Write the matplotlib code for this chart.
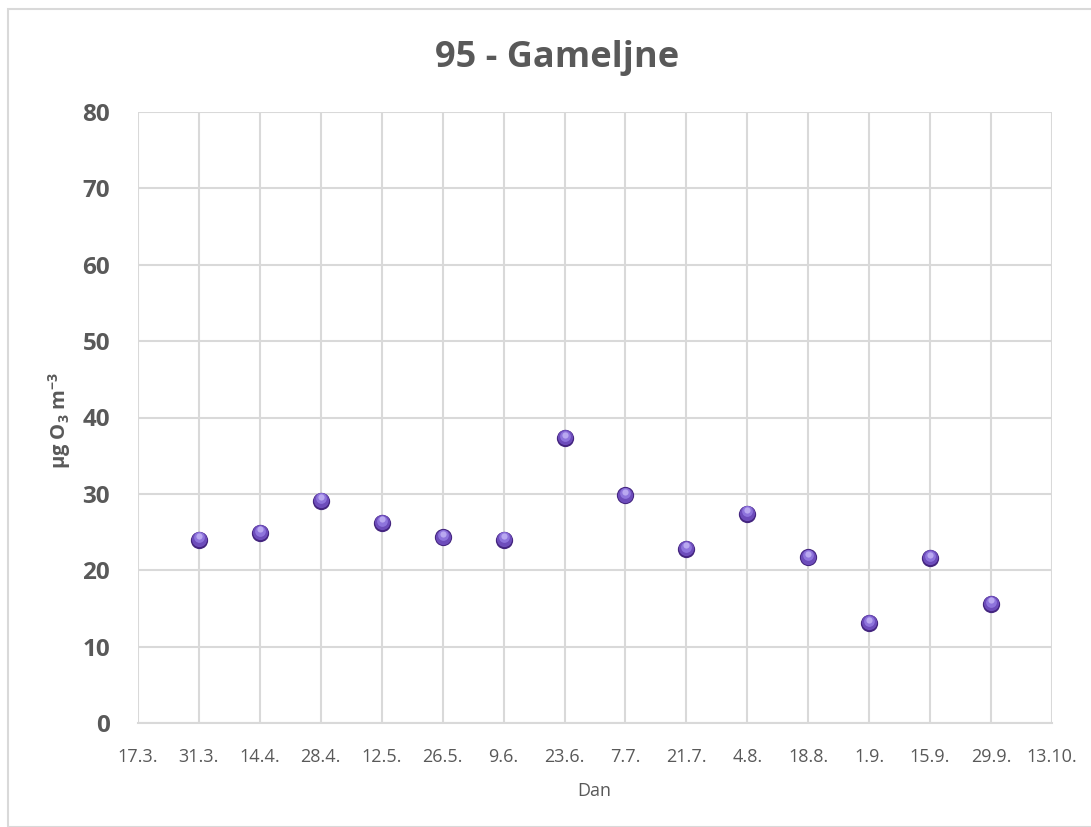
import matplotlib
matplotlib.use("Agg")
import matplotlib.pyplot as plt
import matplotlib.dates as mdates
from matplotlib.patches import Rectangle
import datetime as dt

# ---- data ----
dates = ["31.3.", "14.4.", "28.4.", "12.5.", "26.5.", "9.6.", "23.6.", "7.7.",
         "21.7.", "4.8.", "18.8.", "1.9.", "15.9.", "29.9."]
values = [24.0, 24.9, 29.1, 26.2, 24.3, 24.0, 37.3, 29.8,
          22.8, 27.4, 21.7, 13.1, 21.6, 15.6]
x_ticks = ["17.3.", "31.3.", "14.4.", "28.4.", "12.5.", "26.5.", "9.6.", "23.6.",
           "7.7.", "21.7.", "4.8.", "18.8.", "1.9.", "15.9.", "29.9.", "13.10."]
y_ticks = [0, 10, 20, 30, 40, 50, 60, 70, 80]
title = "95 - Gameljne"
year = 2021


def to_date(s):
    d, m = [int(p) for p in s.strip(".").split(".")]
    return dt.date(year, m, d)


xd = [mdates.date2num(to_date(s)) for s in dates]
xt = [mdates.date2num(to_date(s)) for s in x_ticks]

plt.rcParams['font.family'] = ['Open Sans', 'DejaVu Sans']
grey = "#595959"

fig = plt.figure(figsize=(10.91, 8.27), dpi=100)
fig.patches.append(Rectangle((8 / 1091, 0.0), 1.2, 1 - 9 / 827, transform=fig.transFigure,
                             fill=False, edgecolor="#d9d9d9", linewidth=1.5))
ax = fig.add_axes([138 / 1091, 1 - 723 / 827, (1052 - 138) / 1091, (723 - 112) / 827])

ax.set_xlim(xt[0], xt[-1])
ax.set_ylim(0, 80)
ax.set_xticks(xt)
ax.set_xticklabels(x_ticks)
ax.set_yticks(y_ticks)
ax.set_yticklabels([str(v) for v in y_ticks])
ax.grid(True, color="#d9d9d9", linewidth=1.5)
ax.set_axisbelow(True)
for s in ax.spines.values():
    s.set_visible(False)
ax.spines['bottom'].set_visible(True)
ax.spines['bottom'].set_color("#d9d9d9")
ax.spines['bottom'].set_linewidth(1.5)
ax.tick_params(length=0)
ax.tick_params(axis='x', labelsize=13, colors=grey, pad=18)
ax.tick_params(axis='y', labelsize=17.5, colors=grey, pad=20)
for lbl in ax.get_yticklabels():
    lbl.set_fontweight("bold")

# sphere-like markers
ax.scatter(xd, values, s=155, color="#44257f", zorder=3, linewidths=0)
ax.scatter(xd, [v + 0.1 for v in values], s=120, color="#6d4cbb", zorder=4, linewidths=0)
ax.scatter(xd, [v + 0.3 for v in values], s=60, color="#8e74dc", zorder=5, linewidths=0)
ax.scatter(xd, [v + 0.45 for v in values], s=20, color="#b9a8f0", zorder=6, linewidths=0)

fig.text(557 / 1091, 1 - 58 / 827, title, ha="center", va="center",
         fontsize=26, fontweight="bold", color=grey)
fig.text(594 / 1091, 1 - 791 / 827, "Dan", ha="center", va="center",
         fontsize=13, color=grey)
fig.text(60 / 1091, 1 - 420 / 827, r"µg O$_\mathregular{3}$ m$^\mathregular{-3}$", ha="center", va="center",
         rotation=90, fontsize=14.5, fontweight="bold", color=grey)

fig.savefig("out.png", dpi=100)
